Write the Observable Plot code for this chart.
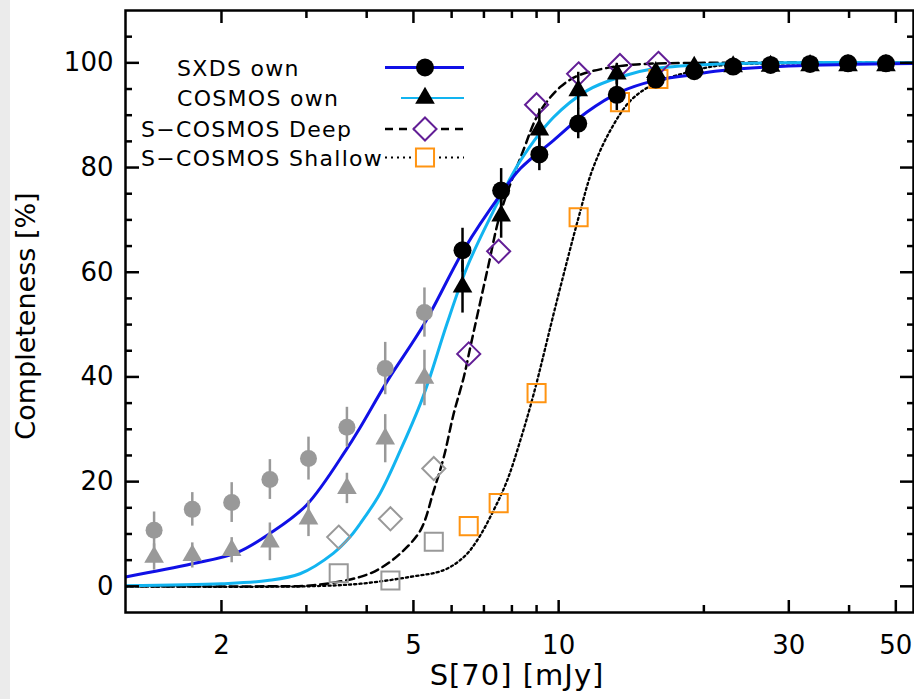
<!DOCTYPE html>
<html>
<head>
<meta charset="utf-8">
<script src="https://cdn.jsdelivr.net/npm/d3@7"></script>
<script src="https://cdn.jsdelivr.net/npm/@observablehq/plot@0.6"></script>
<style>
html, body { margin: 0; padding: 0; background: #fff; }
#chart { width: 914px; height: 699px; overflow: hidden; }
</style>
</head>
<body>
<div id="chart"></div>
<script>
// ---------- data ----------
// own completeness simulations (SXDS, COSMOS), same flux bins
const ownFlux   = [1.45, 1.74, 2.10, 2.52, 3.03, 3.64, 4.37, 5.27, 6.32, 7.6, 9.12, 10.98, 13.2, 15.9, 19.1, 23.0, 27.5, 33.2, 39.8, 47.7];
const sxdsComp  = [10.7, 14.7, 16.0, 20.4, 24.4, 30.4, 41.6, 52.3, 64.2, 75.6, 82.5, 88.4, 93.9, 96.8, 98.4, 99.3, 99.6, 99.8, 99.9, 99.9];
const sxdsErr   = [3.5, 3.2, 3.8, 3.8, 4.1, 3.8, 5.0, 4.7, 4.2, 4.2, 3.1, 2.9, 3.0, 1.2, 0.8, 0.5, 0.4, 0.3, 0.2, 0.2];
const cosmosComp= [5.6, 5.9, 6.9, 8.5, 12.9, 18.7, 28.2, 39.8, 57.2, 70.8, 87.2, 94.7, 97.9, 98.2, 99.2, 99.3, 99.4, 99.5, 99.5, 99.5];
const cosmosErr = [2.5, 2.4, 2.4, 3.6, 3.4, 2.9, 4.6, 5.3, 5.0, 4.3, 4.0, 3.5, 2.0, 1.5, 0.8, 0.5, 0.4, 0.3, 0.3, 0.3];

// S-COSMOS completeness
const scFlux    = [3.5, 4.48, 5.51, 6.51, 7.51, 9.0, 11.0, 13.4, 16.1];
const scDeep    = [9.4, 12.9, 22.5, 44.4, 64.0, 92.0, 97.9, 99.5, 99.9];
const scShallow = [2.5, 1.1, 8.5, 11.5, 15.9, 36.9, 70.5, 92.5, 96.9];

// points fainter than this are shown in grey
const faintLimit = 6;

// fitted curves
const fitSxdsX   = [1.265, 1.74, 2.16, 2.52, 3.0, 3.64, 3.88, 4.42, 5.27, 6.38, 7.6, 8.33, 9.76, 11.45, 13.4, 15.8, 18.5, 21.6, 30, 54.4];
const fitSxdsY   = [1.8, 4.3, 6.5, 10.1, 15.5, 26.3, 30.4, 39.3, 50.2, 64.5, 75.0, 79.8, 85.2, 90.6, 94.4, 96.6, 97.6, 98.5, 99.4, 99.9];
const fitCosmosX = [1.265, 2.0, 2.49, 2.91, 3.41, 3.70, 3.88, 4.26, 4.70, 5.17, 5.38, 5.87, 6.46, 7.11, 7.7, 8.33, 9.76, 11.45, 13.4, 15.8, 21.6, 54.4];
const fitCosmosY = [0.1, 0.5, 1.1, 2.4, 6.3, 9.5, 12.0, 17.7, 26.0, 34.9, 39.3, 50.2, 61.0, 69.3, 75.6, 81.3, 89.6, 94.7, 97.3, 98.9, 99.8, 100];
const fitDeepX   = [1.265, 2.5, 3.10, 3.88, 4.26, 4.70, 5.17, 5.51, 5.78, 6.06, 6.36, 6.56, 7.14, 7.57, 8.45, 9.09, 10.08, 11.0, 12.4, 14.5, 20, 54.4];
const fitDeepY   = [0, 0, 0.2, 1.8, 3.4, 6.3, 10.7, 18.3, 24.7, 33.0, 40.0, 45.7, 61.0, 71.2, 83.3, 90.3, 95.4, 97.6, 98.9, 99.7, 100, 100];
const fitShallowX= [1.265, 3.0, 3.88, 4.92, 5.78, 6.36, 6.78, 7.33, 7.82, 8.33, 8.88, 9.92, 11.0, 11.73, 12.8, 14.1, 15.8, 18.5, 21.6, 30, 54.4];
const fitShallowY= [0, 0, 0.5, 1.8, 3.1, 5.6, 8.8, 14.5, 20.2, 27.9, 36.8, 54.6, 70.5, 79.4, 87.1, 92.8, 96.0, 98.2, 99.5, 99.9, 100];

// axis ticks
const xMajor = [2, 5, 10, 30, 50];
const xMinor = [3, 4, 6, 7, 8, 9, 20, 40];
const yMajor = [0, 20, 40, 60, 80, 100];
const yMinor = [5, 10, 15, 25, 30, 35, 45, 50, 55, 65, 70, 75, 85, 90, 95, 105];

const legendLabels = ["SXDS own", "COSMOS own", "S\u2212COSMOS Deep", "S\u2212COSMOS Shallow"];
const xTitle = "S[70] [mJy]";
const yTitle = "Completeness [%]";

// ---------- tables ----------
const own = ownFlux.map((f, i) => ({flux: f, sxds: sxdsComp[i], sxdsErr: sxdsErr[i], cosmos: cosmosComp[i], cosmosErr: cosmosErr[i]}));
const sc = scFlux.map((f, i) => ({flux: f, deep: scDeep[i], shallow: scShallow[i]}));
const pairs = (xs, ys) => xs.map((x, i) => ({x, y: ys[i]}));
const faint = d => d.flux < faintLimit;
const bright = d => d.flux >= faintLimit;

const BLUE = "#1010e6", LIGHT = "#12b4f0", PURPLE = "#621e96", ORANGE = "#ff9412", GREY = "#999999";
const FONT = "DejaVu Sans";

const chart = Plot.plot({
  width: 914,
  height: 699,
  marginLeft: 125,
  marginRight: 1,
  marginTop: 10,
  marginBottom: 87,
  style: {fontFamily: FONT, fontSize: "26px", color: "#000", background: "linear-gradient(to right, #ebebeb 0px, #ebebeb 10px, #ffffff 10px)"},
  x: {type: "log", domain: [1.265, 54.4]},
  y: {domain: [-5, 110]},
  marks: [
    // curves
    Plot.line(pairs(fitShallowX, fitShallowY), {x: "x", y: "y", stroke: "#000", strokeWidth: 2.3, strokeDasharray: "2.2,3", curve: "catmull-rom", clip: true}),
    Plot.line(pairs(fitDeepX, fitDeepY), {x: "x", y: "y", stroke: "#000", strokeWidth: 2.5, strokeDasharray: "8,5", curve: "catmull-rom", clip: true}),
    Plot.line(pairs(fitCosmosX, fitCosmosY), {x: "x", y: "y", stroke: LIGHT, strokeWidth: 3, curve: "catmull-rom", clip: true}),
    Plot.line(pairs(fitSxdsX, fitSxdsY), {x: "x", y: "y", stroke: BLUE, strokeWidth: 3, curve: "catmull-rom", clip: true}),

    // S-COSMOS points
    Plot.dot(sc.filter(faint), {x: "flux", y: "deep", symbol: "diamond2", r: 10.4, stroke: GREY, strokeWidth: 2, fill: "none"}),
    Plot.dot(sc.filter(faint), {x: "flux", y: "shallow", symbol: "square", r: 10.2, stroke: GREY, strokeWidth: 2, fill: "none"}),
    Plot.dot(sc.filter(bright), {x: "flux", y: "shallow", symbol: "square", r: 10.2, stroke: ORANGE, strokeWidth: 2, fill: "none"}),
    Plot.dot(sc.filter(bright), {x: "flux", y: "deep", symbol: "diamond2", r: 10.4, stroke: PURPLE, strokeWidth: 2, fill: "none"}),

    // own points, faint (grey)
    Plot.ruleX(own.filter(faint), {x: "flux", y1: d => d.sxds - d.sxdsErr, y2: d => d.sxds + d.sxdsErr, stroke: GREY, strokeWidth: 2.5}),
    Plot.ruleX(own.filter(faint), {x: "flux", y1: d => d.cosmos - d.cosmosErr, y2: d => d.cosmos + d.cosmosErr, stroke: GREY, strokeWidth: 2.5}),
    Plot.dot(own.filter(faint), {x: "flux", y: "sxds", r: 8.5, fill: GREY, stroke: "none"}),
    Plot.dot(own.filter(faint), {x: "flux", y: "cosmos", symbol: "triangle", r: 7.3, fill: GREY, stroke: "none"}),

    // own points, bright (black)
    Plot.ruleX(own.filter(bright), {x: "flux", y1: d => d.sxds - d.sxdsErr, y2: d => d.sxds + d.sxdsErr, stroke: "#000", strokeWidth: 2.5}),
    Plot.ruleX(own.filter(bright), {x: "flux", y1: d => d.cosmos - d.cosmosErr, y2: d => d.cosmos + d.cosmosErr, stroke: "#000", strokeWidth: 2.5}),
    Plot.dot(own.filter(bright), {x: "flux", y: "cosmos", symbol: "triangle", r: 7.3, fill: "#000", stroke: "none"}),
    Plot.dot(own.filter(bright), {x: "flux", y: "sxds", r: 9, fill: "#000", stroke: "none"}),

    // frame and inward ticks
    Plot.frame({stroke: "#000", strokeWidth: 2.5}),
    Plot.axisX(xMajor, {anchor: "bottom", tickSize: -12, fill: "none", strokeWidth: 2.5}),
    Plot.axisX(xMinor, {anchor: "bottom", tickSize: -7, fill: "none", strokeWidth: 2.5}),
    Plot.axisX(xMajor, {anchor: "top", tickSize: -12, fill: "none", strokeWidth: 2.5}),
    Plot.axisX(xMinor, {anchor: "top", tickSize: -7, fill: "none", strokeWidth: 2.5}),
    Plot.axisY(yMajor, {anchor: "left", tickSize: -14, fill: "none", strokeWidth: 2.5}),
    Plot.axisY(yMinor, {anchor: "left", tickSize: -7, fill: "none", strokeWidth: 2.5}),
    Plot.axisY(yMajor, {anchor: "right", tickSize: -14, fill: "none", strokeWidth: 2.5}),
    Plot.axisY(yMinor, {anchor: "right", tickSize: -7, fill: "none", strokeWidth: 2.5}),
    // tick labels
    Plot.axisX(xMajor, {anchor: "bottom", tickSize: 0, tickPadding: 23, label: null, fontSize: 26, tickFormat: d => String(d)}),
    Plot.axisY(yMajor, {anchor: "left", tickSize: 0, tickPadding: 12, label: null, fontSize: 26, tickFormat: d => String(d)})
  ]
});

document.getElementById("chart").appendChild(chart);

// ---------- titles and legend ----------
const svg = d3.select(chart);

svg.append("text")
  .attr("x", 517).attr("y", 685)
  .attr("text-anchor", "middle")
  .attr("font-family", FONT).attr("font-size", 29).attr("letter-spacing", 1)
  .attr("fill", "#000")
  .text(xTitle);

svg.append("text")
  .attr("transform", "translate(35,316) rotate(-90)")
  .attr("text-anchor", "middle")
  .attr("font-family", FONT).attr("font-size", 27)
  .attr("fill", "#000")
  .text(yTitle);

const lg = svg.append("g")
  .attr("font-family", FONT).attr("font-size", 22).attr("letter-spacing", 1.3)
  .attr("text-anchor", "start");
const rowY = [67.5, 98, 129, 157.5];
const textX = [177, 177, 141, 141];
legendLabels.forEach((t, i) => {
  lg.append("text").attr("x", textX[i]).attr("y", rowY[i] + 8).attr("text-anchor", "start").attr("fill", "#000").text(t);
});
// sample lines
lg.append("line").attr("x1", 385).attr("x2", 464).attr("y1", rowY[0]).attr("y2", rowY[0]).attr("stroke", BLUE).attr("stroke-width", 3);
lg.append("line").attr("x1", 401).attr("x2", 464).attr("y1", rowY[1]).attr("y2", rowY[1]).attr("stroke", LIGHT).attr("stroke-width", 2);
lg.append("line").attr("x1", 385).attr("x2", 464).attr("y1", rowY[2]).attr("y2", rowY[2]).attr("stroke", "#000").attr("stroke-width", 2.3).attr("stroke-dasharray", "8,6");
lg.append("line").attr("x1", 385).attr("x2", 464).attr("y1", rowY[3]).attr("y2", rowY[3]).attr("stroke", "#000").attr("stroke-width", 2).attr("stroke-dasharray", "2,4");
// sample markers
const sym = (type, r) => d3.symbol(type, Math.PI * r * r)();
lg.append("path").attr("transform", `translate(425,${rowY[0]})`).attr("d", sym(d3.symbolCircle, 9)).attr("fill", "#000");
lg.append("path").attr("transform", `translate(425,${rowY[1]})`).attr("d", sym(d3.symbolTriangle, 7.3)).attr("fill", "#000");
lg.append("path").attr("transform", `translate(425,${rowY[2]})`).attr("d", sym(d3.symbolDiamond2, 10.4)).attr("fill", "#fff").attr("stroke", PURPLE).attr("stroke-width", 2);
lg.append("path").attr("transform", `translate(425,${rowY[3]})`).attr("d", sym(d3.symbolSquare, 10.2)).attr("fill", "#fff").attr("stroke", ORANGE).attr("stroke-width", 2);
</script>
</body>
</html>
